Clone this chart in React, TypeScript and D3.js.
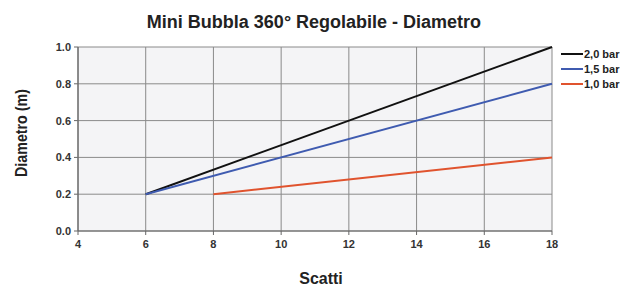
import React from 'react'
import * as d3 from 'd3'

const xTicks = [4, 6, 8, 10, 12, 14, 16, 18]
const yTicks = [0, 0.2, 0.4, 0.6, 0.8, 1.0]
const seriesNames = ['2,0 bar', '1,5 bar', '1,0 bar']
const seriesColors = ['#111111', '#3f5bb0', '#e0532e']
const scatti2 = [6, 18]
const diam2 = [0.2, 1.0]
const scatti15 = [6, 18]
const diam15 = [0.2, 0.8]
const scatti1 = [8, 18]
const diam1 = [0.2, 0.4]

const W = 627
const H = 286
const font = "'Liberation Sans Narrow', 'Arial Narrow', 'Liberation Sans', Arial, sans-serif"

const App = () => {
    const x = d3.scaleLinear().domain([4, 18]).range([78, 552])
    const y = d3.scaleLinear().domain([0, 1]).range([231, 47])
    const line = d3.line<[number, number]>().x(d => x(d[0])).y(d => y(d[1]))

    const series = [
        { xs: scatti2, ys: diam2 },
        { xs: scatti15, ys: diam15 },
        { xs: scatti1, ys: diam1 },
    ]

    return (
        <svg width={W} height={H} style={{ position: 'absolute', left: 0, top: 0, background: '#fff' }}>
            <text x={314} y={28} textAnchor="middle" fontFamily={font} fontWeight="bold" fontSize={18} fill="#222">
                Mini Bubbla 360° Regolabile - Diametro
            </text>
            <rect x={x(4)} y={y(1)} width={x(18) - x(4)} height={y(0) - y(1)} fill="#f4f4f6" />
            {yTicks.map(t => (
                <g key={'y' + t}>
                    <line x1={x(4)} x2={x(18)} y1={y(t)} y2={y(t)} stroke="#8a8a8a" strokeWidth={1} />
                    <line x1={x(4) - 4} x2={x(4)} y1={y(t)} y2={y(t)} stroke="#666" strokeWidth={1} />
                    <text x={x(4) - 7} y={y(t) + 4} textAnchor="end" fontFamily={font} fontWeight="bold" fontSize={11} fill="#333">
                        {t.toFixed(1)}
                    </text>
                </g>
            ))}
            {xTicks.map(t => (
                <g key={'x' + t}>
                    <line x1={x(t)} x2={x(t)} y1={y(1)} y2={y(0)} stroke="#8a8a8a" strokeWidth={1} />
                    <line x1={x(t)} x2={x(t)} y1={y(0)} y2={y(0) + 4} stroke="#666" strokeWidth={1} />
                    <text x={x(t)} y={y(0) + 17} textAnchor="middle" fontFamily={font} fontWeight="bold" fontSize={11} fill="#333">
                        {t}
                    </text>
                </g>
            ))}
            <line x1={x(4)} x2={x(18)} y1={y(0)} y2={y(0)} stroke="#666" strokeWidth={1.2} />
            <line x1={x(4)} x2={x(4)} y1={y(1)} y2={y(0)} stroke="#666" strokeWidth={1.2} />
            {series.map((s, i) => (
                <path key={i} d={line(s.xs.map((v, j) => [v, s.ys[j]] as [number, number])) || ''}
                    fill="none" stroke={seriesColors[i]} strokeWidth={2} />
            ))}
            {seriesNames.map((n, i) => (
                <g key={n} transform={`translate(561,${54 + i * 15})`}>
                    <line x1={0} x2={22} y1={0} y2={0} stroke={seriesColors[i]} strokeWidth={2} />
                    <text x={23} y={4} fontFamily={font} fontWeight="bold" fontSize={11} fill="#222">{n}</text>
                </g>
            ))}
            <text transform={`translate(27,133) rotate(-90)`} textAnchor="middle" fontFamily={font} fontWeight="bold" fontSize={17}
                textLength={88} lengthAdjust="spacingAndGlyphs" fill="#222">
                Diametro (m)
            </text>
            <text x={321} y={284} textAnchor="middle" fontFamily={font} fontWeight="bold" fontSize={16} fill="#222">
                Scatti
            </text>
        </svg>
    )
}

export default App
